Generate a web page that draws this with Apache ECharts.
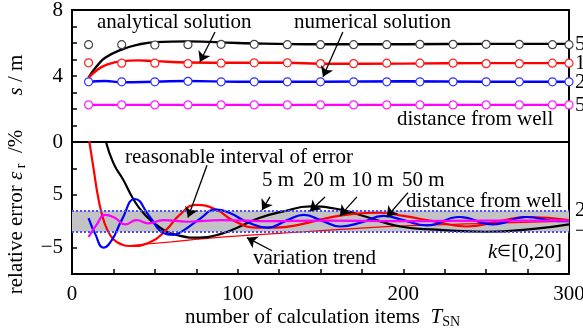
<!DOCTYPE html>
<html lang="en">
<head>
<meta charset="UTF-8">
<title>s and relative error</title>
<script src="https://cdn.jsdelivr.net/npm/echarts/dist/echarts.min.js"></script>
<style>
    html, body { margin: 0; padding: 0; background: #fff; }
    #chart { width: 583px; height: 335px; }
</style>
</head>
<body>
<div id="chart"></div>
<script>
// ---- top panel: s / m ----
let ana5x = [10, 15, 20, 30, 40, 50, 70, 100, 150, 200, 250, 300];
let ana5y = [3.9, 4.6, 5.1, 5.6, 5.9, 6.05, 6.1, 6.0, 5.92, 5.92, 5.95, 5.95];
let ana10x = [10, 15, 20, 30, 40, 50, 70, 100, 130, 150, 200, 250, 300];
let ana10y = [3.9, 4.35, 4.65, 4.9, 4.95, 4.9, 4.82, 4.8, 4.8, 4.74, 4.75, 4.78, 4.78];
let ana20x = [10, 20, 30, 50, 70, 100, 150, 200, 250, 300];
let ana20y = [3.65, 3.7, 3.62, 3.65, 3.7, 3.65, 3.65, 3.68, 3.65, 3.65];
let ana50x = [10, 100, 200, 300];
let ana50y = [2.25, 2.25, 2.25, 2.25];

let numX = [10, 30, 50, 70, 90, 110, 130, 150, 170, 190, 210, 230, 250, 270, 290, 300];
let num5m = [5.9, 5.9, 5.88, 5.9, 5.92, 5.92, 5.9, 5.9, 5.9, 5.9, 5.92, 5.92, 5.92, 5.92, 5.9, 5.9];
let num10m = [4.8, 4.78, 4.78, 4.75, 4.78, 4.8, 4.8, 4.75, 4.75, 4.78, 4.78, 4.78, 4.75, 4.75, 4.78, 4.78];
let num20m = [3.65, 3.65, 3.65, 3.68, 3.65, 3.65, 3.65, 3.65, 3.65, 3.65, 3.65, 3.65, 3.65, 3.65, 3.65, 3.65];
let num50m = [2.25, 2.25, 2.25, 2.25, 2.25, 2.25, 2.25, 2.25, 2.25, 2.25, 2.25, 2.25, 2.25, 2.25, 2.25, 2.25];

// ---- bottom panel: relative error ----
let err5x = [15, 20, 25, 31, 37, 43, 53, 63, 77, 90, 100, 113, 127, 144, 162, 178, 198, 220, 250, 280, 300];
let err5y = [14, 10.3, 8, 6.4, 4.6, 3.3, 1.9, 1.2, 0.94, 1.3, 1.9, 2.8, 3.4, 3.9, 3.6, 2.9, 2.0, 1.7, 1.5, 1.8, 2.2];
let err10x = [10, 13, 15.5, 18, 21, 25, 30, 35, 47, 57, 65, 75, 87, 97, 111, 123, 138, 154, 170, 185, 200, 218, 238, 258, 275, 300];
let err10y = [10.5, 7.5, 5.0, 3.2, 1.8, 0.8, 0.3, 0.15, 0.5, 1.7, 3.1, 4.05, 3.6, 2.6, 1.9, 1.9, 2.2, 2.8, 3.2, 3.3, 3.0, 2.5, 2.0, 2.5, 2.9, 2.6];
let trendX = [35, 60, 80, 110, 140, 170, 200, 250, 300];
let trendY = [0.2, 0.55, 0.85, 1.2, 1.5, 1.8, 2.05, 2.3, 2.5];
let err20x = [10, 14, 19, 24, 30, 38, 47, 55, 61, 68, 77, 87, 95, 106, 118, 130, 140, 150, 162, 175, 188, 200, 214, 234, 254, 274, 294, 300];
let err20y = [2.8, 1.3, 0.0, 0.7, 2.6, 4.6, 2.9, 1.4, 1.2, 1.7, 2.7, 3.6, 3.3, 2.4, 1.9, 2.6, 3.1, 2.6, 2.0, 2.4, 3.0, 2.6, 2.1, 2.9, 2.2, 2.9, 2.5, 2.5];
let err50x = [10, 15, 20, 26, 32, 39, 46, 55, 70, 90, 120, 150, 200, 250, 300];
let err50y = [1.0, 2.2, 3.1, 2.8, 2.2, 2.6, 2.3, 2.6, 2.45, 2.6, 2.5, 2.55, 2.5, 2.55, 2.55];
let bandLow = 1.5;
let bandHigh = 3.5;

// tick labels
let sTickVals = [4, 8];
let errTickVals = [10, 5, 0];
let errTickText = ['0', '5', '\u22125'];
let xTickVals = [0, 100, 200, 300];

function zip(xs, ys) {
    return xs.map((x, i) => [x, ys[i]]);
}

const SERIF = '"Liberation Serif", "Times New Roman", serif';
function fnt(size, italic) {
    return (italic ? 'italic ' : '') + size + 'px ' + SERIF;
}
const cv = document.createElement('canvas').getContext('2d');
function tw(t, f) {
    cv.font = f;
    return cv.measureText(t).width;
}
// a run of text pieces (for italic letters and subscripts)
function run(x, y, parts) {
    let out = [];
    let cx = x;
    parts.forEach(p => {
        let f = fnt(p.size || 21, p.italic);
        out.push({
            type: 'text', x: cx, y: y + (p.dy || 0), silent: true,
            style: {text: p.t, font: f, fill: '#000', textAlign: 'left', verticalAlign: 'middle', textVerticalAlign: 'middle'}
        });
        cx += tw(p.t, f);
    });
    return out;
}
function runWidth(parts) {
    let w = 0;
    parts.forEach(p => w += tw(p.t, fnt(p.size || 21, p.italic)));
    return w;
}

// plain annotation texts
let labels = [
    ['analytical solution', 97, 22],
    ['numerical solution', 294, 22],
    ['distance from well', 397, 119],
    ['5', 575, 44], ['1', 575, 63], ['2', 575, 82], ['5', 575, 105],
    ['reasonable interval of error', 125, 157],
    ['5 m', 262, 180], ['20 m', 303, 180], ['10 m', 351, 180], ['50 m', 402, 180],
    ['distance from well', 406, 201],
    ['variation trend', 253, 258],
    ['2', 575, 210], ['\u2212', 575, 231]
];
let graphics = [];
labels.forEach(l => graphics = graphics.concat(run(l[1], l[2], [{t: l[0]}])));
graphics = graphics.concat(run(488, 252, [{t: 'k', italic: true}, {t: '\u2208', size: 16}, {t: '[0,20]'}]));

// x axis title
let xTitle = [{t: 'number of calculation items  '}, {t: 'T', italic: true}, {t: 'SN', size: 14, dy: 5}];
graphics = graphics.concat(run(185, 317, xTitle));

// rotated y titles
let sTitle = [{t: 's', italic: true}, {t: ' / m'}];
let sw = runWidth(sTitle);
graphics.push({type: 'group', x: 16, y: 75, rotation: Math.PI / 2, children: run(-sw / 2, 0, sTitle)});
let eTitle = [{t: 'relative error '}, {t: '\u03b5', italic: true}, {t: ' r', size: 14, dy: 5}, {t: '  /%'}];
let ew = runWidth(eTitle);
graphics.push({type: 'group', x: 16, y: 212, rotation: Math.PI / 2, children: run(-ew / 2, 0, eTitle)});

// arrows (data coordinates)
function arrow(a, b) {
    return [{coord: a}, {coord: b}];
}
let topArrows = [
    arrow([86.3, 6.67], [77.2, 4.85]),
    arrow([163.5, 6.67], [151.5, 3.95])
];
let bottomArrows = [
    arrow([81.5, 7.8], [70, 2.85]),
    arrow([119.5, 4.8], [114.7, 3.55]),
    arrow([152.7, 4.8], [143.6, 3.45]),
    arrow([172, 4.8], [161.7, 3.0]),
    arrow([202.8, 5.2], [190, 2.9]),
    arrow([120.7, -0.3], [105.6, 0.94])
];
function arrowSeries(idx, data) {
    return {
        type: 'line', xAxisIndex: idx, yAxisIndex: idx, data: [], silent: true, z: 6,
        markLine: {
            silent: true, animation: false, symbol: ['none', 'arrow'], symbolSize: 10,
            label: {show: false},
            lineStyle: {color: '#000', width: 1.3, type: 'solid'},
            emphasis: {disabled: true},
            data: data
        }
    };
}

function lineS(idx, xs, ys, color, width) {
    return {
        type: 'line', xAxisIndex: idx, yAxisIndex: idx, data: zip(xs, ys), smooth: true,
        showSymbol: false, symbol: 'none', z: 3,
        lineStyle: {color: color, width: width || 2.4}
    };
}
function circS(xs, ys, color) {
    return {
        type: 'scatter', xAxisIndex: 0, yAxisIndex: 0, data: zip(xs, ys), symbol: 'circle', symbolSize: 8, z: 4,
        itemStyle: {color: '#fff', borderColor: color, borderWidth: 1.2, opacity: 1}
    };
}

let axisLine = {show: true, onZero: false, lineStyle: {color: '#000', width: 2}};
let labelStyle = {color: '#000', fontSize: 21, fontFamily: SERIF};

let myChart = echarts.init(document.getElementById('chart'), null, {renderer: 'canvas'});
let option = {
    animation: false,
    backgroundColor: '#fff',
    grid: [
        {left: 72, top: 10, width: 497, height: 132, show: true, borderColor: '#000', borderWidth: 2, backgroundColor: 'transparent', outerBoundsMode: 'none'},
        {left: 72, top: 142, width: 497, height: 132, show: true, borderColor: '#000', borderWidth: 2, backgroundColor: 'transparent', outerBoundsMode: 'none'}
    ],
    xAxis: [
        {type: 'value', gridIndex: 0, min: 0, max: 300, interval: 100, axisLine: axisLine, axisTick: {show: false}, axisLabel: {show: false}, splitLine: {show: false}},
        {
            type: 'value', gridIndex: 1, min: 0, max: 300, interval: 25, axisLine: axisLine,
            axisTick: {show: true, inside: true, length: 5, lineStyle: {color: '#000', width: 1.5}},
            axisLabel: Object.assign({margin: 10, showMaxLabel: true, formatter: v => xTickVals.indexOf(v) >= 0 ? String(v) : ''}, labelStyle),
            splitLine: {show: false}
        }
    ],
    yAxis: [
        {
            type: 'value', gridIndex: 0, min: 0, max: 8, interval: 1, axisLine: axisLine,
            axisTick: {show: true, inside: true, length: 5, lineStyle: {color: '#000', width: 1.5}},
            axisLabel: Object.assign({margin: 9, showMaxLabel: true, formatter: v => sTickVals.indexOf(v) >= 0 ? String(v) : ''}, labelStyle),
            splitLine: {show: false}
        },
        {
            type: 'value', gridIndex: 1, min: -2.5, max: 10, interval: 2.5, axisLine: axisLine,
            axisTick: {show: true, inside: true, length: 5, lineStyle: {color: '#000', width: 1.5}},
            axisLabel: Object.assign({margin: 9, showMaxLabel: true, formatter: v => {
                let i = errTickVals.indexOf(v);
                return i >= 0 ? errTickText[i] : '';
            }}, labelStyle),
            splitLine: {show: false}
        }
    ],
    graphic: graphics,
    series: [
        // reasonable interval band
        {
            type: 'line', xAxisIndex: 1, yAxisIndex: 1, data: [], z: 1, silent: true,
            markArea: {silent: true, itemStyle: {color: '#c3c3c3'}, data: [[{yAxis: bandLow}, {yAxis: bandHigh}]]},
            markLine: {
                silent: true, symbol: ['none', 'none'], label: {show: false},
                lineStyle: {color: '#4d4dff', type: 'dotted', width: 2},
                data: [{yAxis: bandLow}, {yAxis: bandHigh}]
            }
        },
        lineS(0, ana5x, ana5y, '#000'),
        lineS(0, ana10x, ana10y, '#ff0000'),
        lineS(0, ana20x, ana20y, '#0000ff'),
        lineS(0, ana50x, ana50y, '#ff00ff'),
        circS(numX, num5m, '#444'),
        circS(numX, num10m, '#ff2020'),
        circS(numX, num20m, '#3030ff'),
        circS(numX, num50m, '#ff20ff'),
        lineS(1, trendX, trendY, '#ff0000', 1.2),
        lineS(1, err5x, err5y, '#000', 2.2),
        lineS(1, err10x, err10y, '#ff0000', 2.2),
        lineS(1, err20x, err20y, '#0000ff', 2.2),
        lineS(1, err50x, err50y, '#ff00ff', 2.2),
        arrowSeries(0, topArrows),
        arrowSeries(1, bottomArrows)
    ]
};
myChart.setOption(option);
</script>
</body>
</html>
